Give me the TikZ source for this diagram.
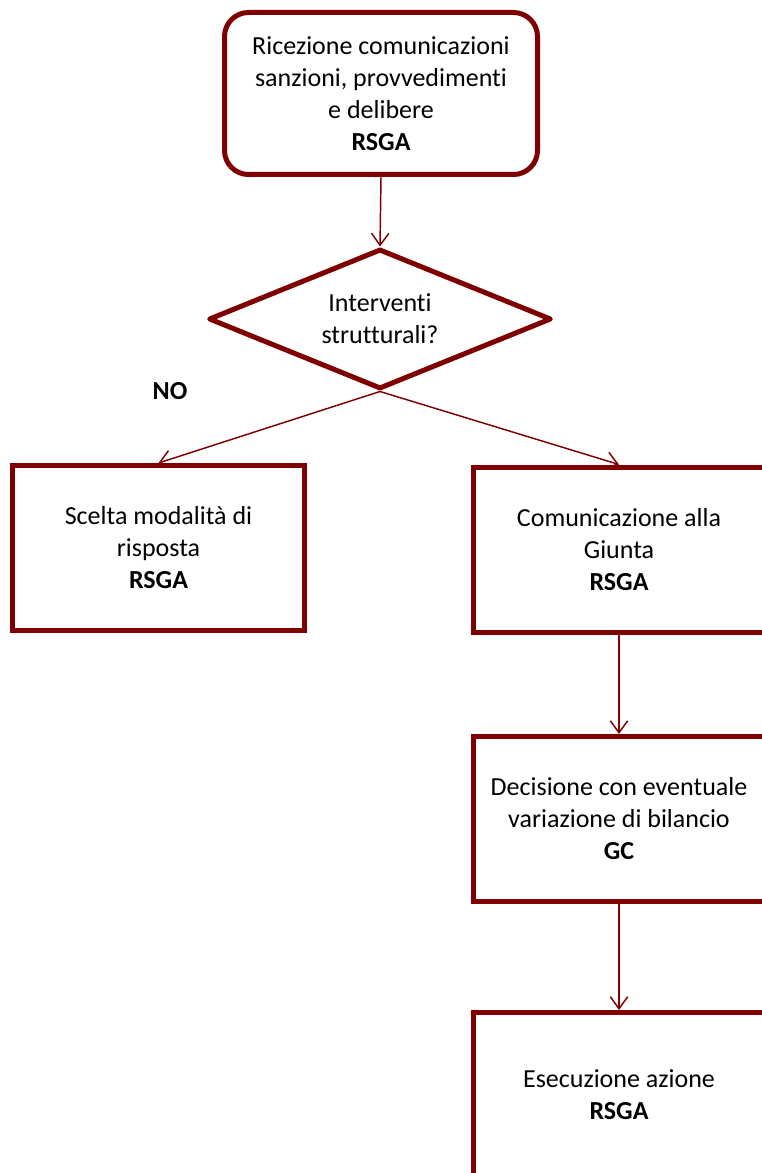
\documentclass[tikz,border=0pt]{standalone}
\usepackage{fontspec}
\setmainfont[Ligatures=NoCommon]{Carlito}
\usetikzlibrary{shapes.geometric, arrows.meta, positioning}
\definecolor{flowmaroon}{HTML}{7F0000}

\begin{document}
\begin{tikzpicture}[x=0.75pt, y=-0.75pt,
  every node/.style={font=\fontsize{19.5}{24}\selectfont, align=center, text=black},
  stepbox/.style={draw=flowmaroon, line width=3.75pt, minimum width=219pt, minimum height=123.75pt, inner sep=0pt},
  startbox/.style={stepbox, rounded corners=18pt, minimum width=234.75pt, minimum height=121.5pt},
  decision/.style={diamond, aspect=2.5, draw=flowmaroon, line width=3.75pt, line join=round, minimum width=257pt, minimum height=105pt, inner sep=0pt},
  flowarrow/.style={draw=flowmaroon, line width=1.1pt, -{Straight Barb[length=9pt, width=13pt]}}
]
  \path[use as bounding box, clip] (0,0) rectangle (762,1173);

  \node[startbox] (ricezione) at (381,93.5) {Ricezione comunicazioni\\sanzioni, provvedimenti\\e delibere\\\textbf{RSGA}};
  \node[decision] (interventi) at (380,319) {Interventi\\strutturali?};
  \node[font=\fontsize{19.5}{24}\selectfont\bfseries] (no) at (170,391) {NO};

  \node[stepbox] (scelta) at (158.5,548) {Scelta modalità di\\risposta\\\textbf{RSGA}};
  \node[stepbox] (giunta) at (619,549.5) {Comunicazione alla\\Giunta\\\textbf{RSGA}};
  \node[stepbox] (decisione) at (619,819) {Decisione con eventuale\\variazione di bilancio\\\textbf{GC}};
  \node[stepbox] (esecuzione) at (619,1095) {Esecuzione azione\\\textbf{RSGA}};

  \draw[flowarrow] (ricezione.south) -- (interventi.north);
  \draw[flowarrow] (interventi.south) -- (scelta.north);
  \draw[flowarrow] (interventi.south) -- (giunta.north);
  \draw[flowarrow] (giunta.south) -- (decisione.north);
  \draw[flowarrow] (decisione.south) -- (esecuzione.north);
\end{tikzpicture}
\end{document}
